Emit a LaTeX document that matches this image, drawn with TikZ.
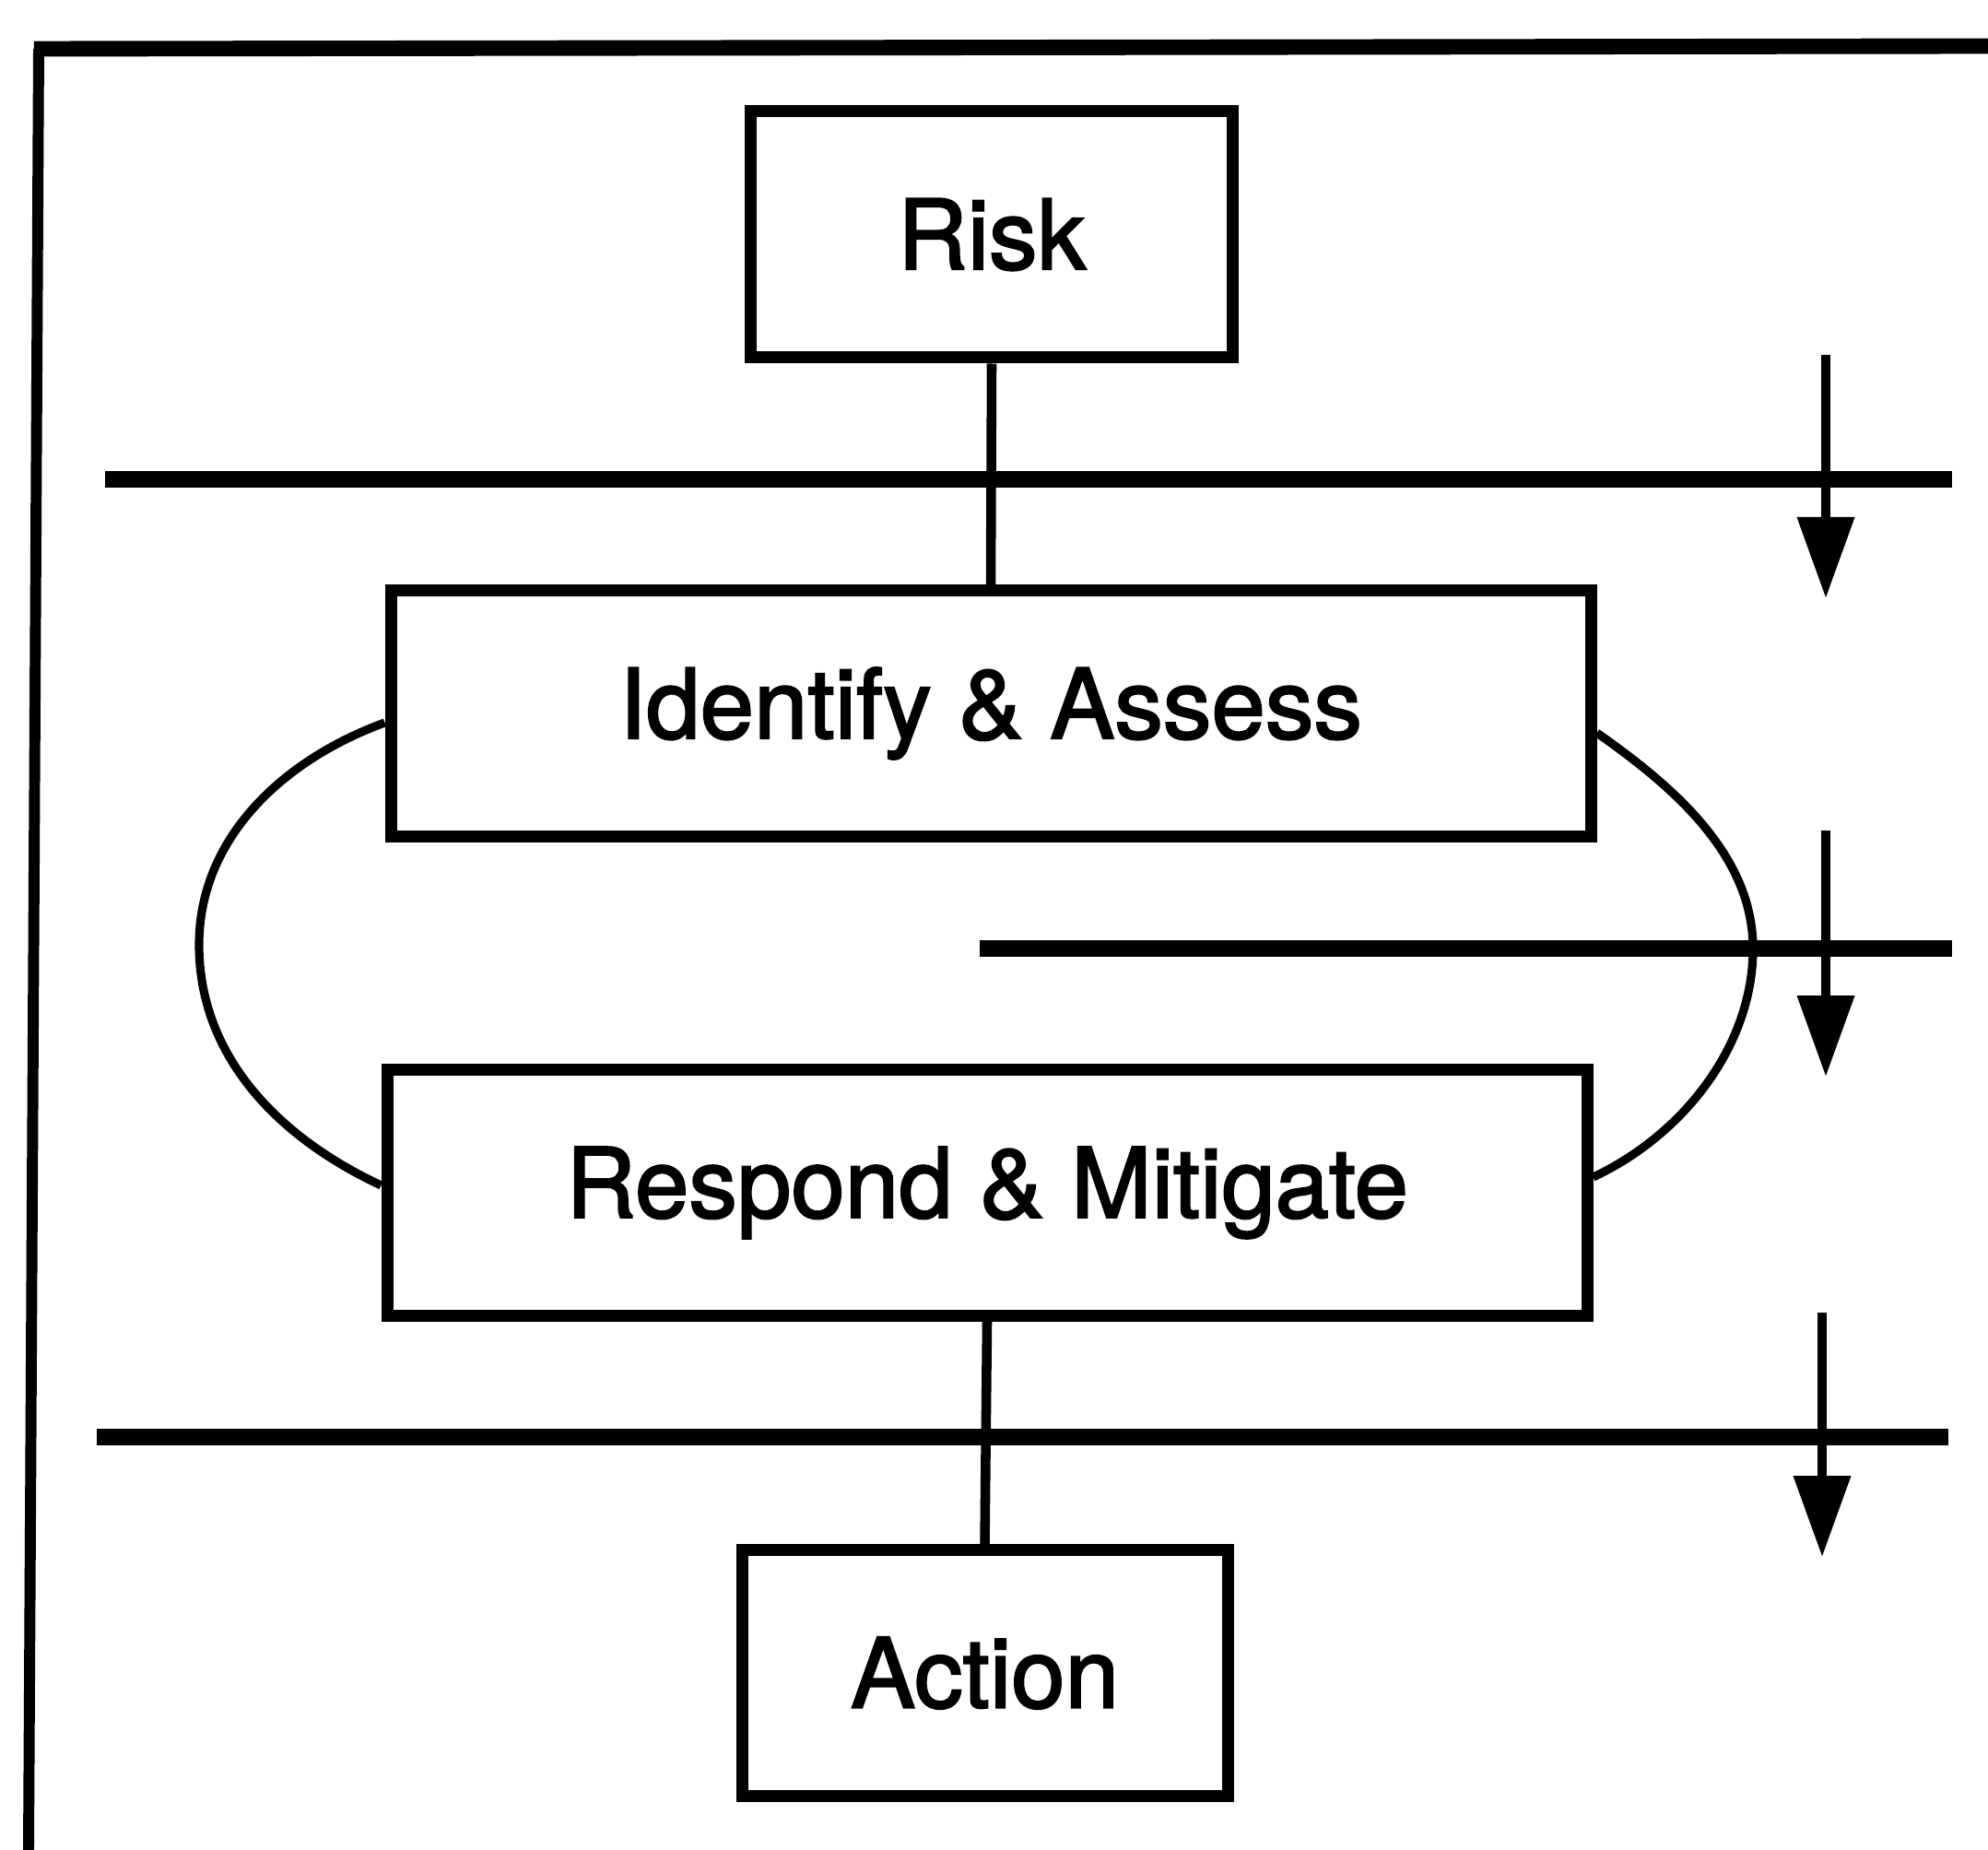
\documentclass[tikz,border=0pt]{standalone}
\usepackage{fontspec}
\setmainfont{TeX Gyre Heros}
\newfontfamily\labelfont{TeX Gyre Heros}[FakeBold=2]
\usetikzlibrary{arrows.meta}
\begin{document}
\begin{tikzpicture}[x=1cm,y=1cm,
  every node/.style={font=\labelfont\fontsize{29.9pt}{36pt}\selectfont},
  stagebox/.style={draw, line width=3.7pt, inner sep=0pt, minimum height=2.67cm},
  link/.style={line width=3.0pt},
  loopline/.style={line width=2.6pt},
  divider/.style={line width=5pt},
  flow/.style={line width=3.0pt, -{Triangle[length=0.88cm,width=0.6cm]}},
  frametop/.style={line width=4.8pt},
  frameside/.style={line width=3.4pt}
]
\useasboundingbox (0,0) rectangle (21.57,-20.07);

% outer frame (open at right and bottom)
\coordinate (fc) at (0.42,-0.53);
\draw[frametop] (21.57,-0.50) -- ([xshift=-0.05cm]fc);
\draw[frameside] (fc) -- (0.31,-20.07);

% stages
\node[stagebox, minimum width=5.23cm] (risk) at (10.76,-2.545) {Risk};
\node[stagebox, minimum width=13.02cm] (ia) at (10.75,-7.74) {Identify \& Assess};
\node[stagebox, minimum width=13.02cm] (rm) at (10.71,-12.94) {Respond \& Mitigate};
\node[stagebox, minimum width=5.27cm] (action) at (10.685,-18.15) {Action};

% vertical links
\draw[link] (risk.south) -- (ia.north);
\draw[link] (rm.south) -- (action.north);

% feedback loop between the two middle stages
\draw[loopline] ([yshift=-0.1cm]ia.west) to[out=200, in=90, looseness=0.95] (2.16,-10.25)
  to[out=-90, in=155, looseness=0.95] ([yshift=0.08cm]rm.west);
\draw[loopline] ([yshift=-0.21cm]ia.east) to[out=-35, in=90, looseness=0.9] (19.02,-10.29)
  to[out=-90, in=25, looseness=0.9] ([yshift=0.17cm]rm.east);

% horizontal dividers
\coordinate (d1a) at (1.14,-5.20);  \coordinate (d1b) at (21.18,-5.20);
\coordinate (d2a) at (10.63,-10.29); \coordinate (d2b) at (21.18,-10.29);
\coordinate (d3a) at (1.05,-15.59); \coordinate (d3b) at (21.14,-15.59);
\draw[divider] (d1a) -- (d1b);
\draw[divider] (d2a) -- (d2b);
\draw[divider] (d3a) -- (d3b);

% downward arrows
\coordinate (a1s) at (19.81,-3.85);  \coordinate (a1e) at (19.81,-6.49);
\coordinate (a2s) at (19.81,-9.01);  \coordinate (a2e) at (19.81,-11.68);
\coordinate (a3s) at (19.77,-14.24); \coordinate (a3e) at (19.77,-16.89);
\draw[flow] (a1s) -- (a1e);
\draw[flow] (a2s) -- (a2e);
\draw[flow] (a3s) -- (a3e);
\end{tikzpicture}
\end{document}
